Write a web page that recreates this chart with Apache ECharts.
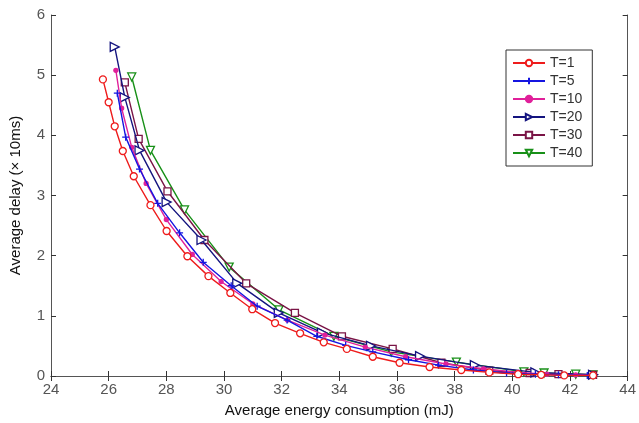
<!DOCTYPE html>
<html>
<head>
<meta charset="utf-8">
<script src="https://cdn.jsdelivr.net/npm/echarts@6/dist/echarts.min.js"></script>
<style>
  html, body { margin: 0; padding: 0; background: #fff; }
  #chart { width: 639px; height: 423px; }
</style>
</head>
<body>
<div id="chart"></div>
<script>
// energy (mJ), delay (x10ms) pairs
const t1 = [
  [25.80, 4.93], [26.00, 4.55], [26.21, 4.15], [26.49, 3.74], [26.87, 3.32],
  [27.45, 2.84], [28.01, 2.41], [28.73, 1.99], [29.46, 1.66], [30.22, 1.38],
  [30.98, 1.11], [31.77, 0.88], [32.64, 0.71], [33.46, 0.56], [34.26, 0.45],
  [35.16, 0.32], [36.09, 0.22], [37.13, 0.15], [38.23, 0.10], [39.20, 0.06],
  [40.20, 0.03], [41.00, 0.02], [41.80, 0.01], [42.80, 0.01]
]
const t5 = [
  [26.30, 4.70], [26.59, 3.97], [27.07, 3.44], [27.70, 2.87], [28.46, 2.38],
  [29.28, 1.89], [30.25, 1.50], [31.15, 1.16], [32.19, 0.93], [33.22, 0.66],
  [34.22, 0.51], [35.16, 0.40], [36.40, 0.27], [37.44, 0.18], [38.65, 0.10],
  [39.80, 0.05], [40.80, 0.03], [41.60, 0.02], [42.60, 0.01]
]
const t10 = [
  [26.25, 5.08], [26.45, 4.45], [26.80, 3.80], [27.30, 3.20], [28.00, 2.60],
  [28.90, 2.02], [29.90, 1.57], [31.00, 1.20], [32.20, 0.93], [33.50, 0.68],
  [34.90, 0.48], [36.30, 0.32], [37.70, 0.20], [39.00, 0.12], [40.20, 0.06],
  [41.20, 0.03], [42.20, 0.02], [42.80, 0.01]
]
const t20 = [
  [26.21, 5.47], [26.56, 4.63], [27.07, 3.75], [28.01, 2.89], [29.22, 2.26],
  [30.46, 1.54], [31.90, 1.05], [33.40, 0.72], [35.10, 0.50], [36.80, 0.33],
  [38.70, 0.18], [40.80, 0.06], [42.80, 0.02]
]
const t30 = [
  [26.56, 4.88], [27.04, 3.94], [28.04, 3.07], [29.32, 2.26], [30.77, 1.54],
  [32.46, 1.05], [34.09, 0.66], [35.85, 0.45], [37.54, 0.22], [39.20, 0.09],
  [40.60, 0.05], [41.60, 0.03], [42.80, 0.02]
]
const t40 = [
  [26.80, 4.97], [27.45, 3.75], [28.63, 2.76], [30.18, 1.81], [31.91, 1.10],
  [33.81, 0.66], [35.80, 0.40], [38.06, 0.23], [40.40, 0.07], [41.10, 0.05],
  [42.20, 0.03], [42.80, 0.02]
]

const names = ['T=1', 'T=5', 'T=10', 'T=20', 'T=30', 'T=40']
const data = [t1, t5, t10, t20, t30, t40]
const colors = ['#ee1c1c', '#1515e0', '#e0209a', '#14147f', '#7a1446', '#189018']
const symbols = [
  'circle',
  'path://M0,5L10,5M5,0L5,10',
  'circle',
  'path://M0,0L10,5L0,10Z',
  'rect',
  'triangle'
]
const sizes = [7, 7, 4, 9, 7, 8]

const chart = echarts.init(document.getElementById('chart'))

const font = 'Liberation Sans, Arial, sans-serif'

const series = names.map((n, i) => ({
  name: n,
  type: 'line',
  data: data[i],
  symbol: symbols[i],
  symbolSize: sizes[i],
  symbolRotate: i === 5 ? 180 : 0,
  showAllSymbol: true,
  lineStyle: { color: colors[i], width: 1.4 },
  itemStyle: {
    color: i === 2 ? colors[i] : '#fff',
    borderColor: colors[i],
    borderWidth: 1.3
  },
  emphasis: { disabled: true },
  z: 10 - i
}))

const axisLine = { show: true, lineStyle: { color: '#555', width: 1 } }

const option = {
  animation: false,
  textStyle: { fontFamily: font },
  grid: { left: 51, right: 9, top: 15, bottom: 47, containLabel: false },
  legend: {
    orient: 'vertical',
    left: 506,
    top: 50,
    itemWidth: 32,
    itemHeight: 8,
    itemGap: 4,
    padding: [6, 10, 6, 6],
    borderColor: '#333',
    borderWidth: 1,
    backgroundColor: '#fff',
    textStyle: { fontSize: 14, color: '#333', fontFamily: font },
    data: names
  },
  xAxis: [
    {
      type: 'value',
      min: 24,
      max: 44,
      interval: 2,
      axisLine: axisLine,
      axisTick: { show: true, inside: true, length: 5, lineStyle: { color: '#333' } },
      axisLabel: { fontSize: 15, color: '#555', margin: 6, fontFamily: font },
      splitLine: { show: false },
      name: 'Average energy consumption (mJ)',
      nameLocation: 'middle',
      nameGap: 27,
      nameTextStyle: { fontSize: 15, color: '#111', fontFamily: font }
    },
    {
      type: 'value',
      position: 'top',
      min: 24,
      max: 44,
      interval: 2,
      axisLine: axisLine,
      axisTick: { show: true, inside: true, length: 5, lineStyle: { color: '#333' } },
      axisLabel: { show: false },
      splitLine: { show: false }
    }
  ],
  yAxis: [
    {
      type: 'value',
      min: 0,
      max: 6,
      interval: 1,
      axisLine: axisLine,
      axisTick: { show: true, inside: true, length: 5, lineStyle: { color: '#333' } },
      axisLabel: { fontSize: 15, color: '#555', margin: 6, fontFamily: font },
      splitLine: { show: false },
      name: 'Average delay (\u00d7 10ms)',
      nameLocation: 'middle',
      nameRotate: 90,
      nameGap: 28,
      nameTextStyle: { fontSize: 15, color: '#111', fontFamily: font }
    },
    {
      type: 'value',
      position: 'right',
      min: 0,
      max: 6,
      interval: 1,
      axisLine: axisLine,
      axisTick: { show: true, inside: true, length: 5, lineStyle: { color: '#333' } },
      axisLabel: { show: false },
      splitLine: { show: false }
    }
  ],
  series: series
}

chart.setOption(option)
</script>
</body>
</html>
